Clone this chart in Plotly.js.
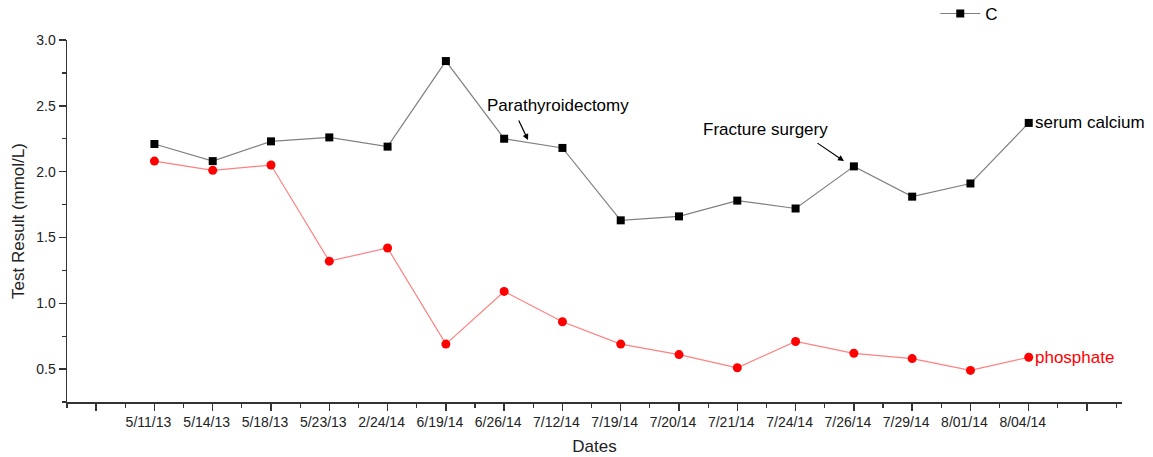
<!DOCTYPE html>
<html>
<head>
<meta charset="utf-8">
<script src="https://cdn.plot.ly/plotly-3.0.1.min.js"></script>
<style>html,body{margin:0;padding:0;background:#fff;}#chart{width:1153px;height:457px;}</style>
</head>
<body>
<div id="chart"></div>
<script>
const dates = ["5/11/13","5/14/13","5/18/13","5/23/13","2/24/14","6/19/14","6/26/14","7/12/14","7/19/14","7/20/14","7/21/14","7/24/14","7/26/14","7/29/14","8/01/14","8/04/14"];
const calcium = [2.21,2.08,2.23,2.26,2.19,2.84,2.25,2.18,1.63,1.66,1.78,1.72,2.04,1.81,1.91,2.37];
const phosphate = [2.08,2.01,2.05,1.32,1.42,0.69,1.09,0.86,0.69,0.61,0.51,0.71,0.62,0.58,0.49,0.59];
const legendName = "C";
const calciumLabel = "serum calcium";
const phosphateLabel = "phosphate";
const notes = [
  {text:"Parathyroidectomy", date:"6/26/14", frac:0.41, value:2.24},
  {text:"Fracture surgery", date:"7/26/14", frac:-0.17, value:2.08}
];

// positions: one empty slot before and after the dated categories
const xpos = dates.map((d,i)=>i+1);
const tickvals = [0].concat(xpos, [dates.length+1]);
const ticktext = [""].concat(dates, [""]);

const font = "Arial, 'Liberation Sans', sans-serif";
const ink = "#222";

const traces = [
  {x:xpos, y:calcium, type:"scatter", mode:"lines+markers", name:legendName,
   line:{color:"#808080", width:1.2},
   marker:{symbol:"square", size:8, color:"#000"}},
  {x:xpos, y:phosphate, type:"scatter", mode:"lines+markers", name:phosphateLabel, showlegend:false,
   line:{color:"#ff8080", width:1.2},
   marker:{symbol:"circle", size:9, color:"#ff0000"}}
];

const ann = [];
const last = dates.length;
ann.push({x:last, y:calcium[last-1], text:calciumLabel, showarrow:false, xanchor:"left", yanchor:"middle", xshift:4, font:{family:font, size:17, color:"#000"}});
ann.push({x:last, y:phosphate[last-1], text:phosphateLabel, showarrow:false, xanchor:"left", yanchor:"middle", xshift:4, font:{family:font, size:17, color:"#ff0000"}});
// Parathyroidectomy
const p = notes[0];
const px = dates.indexOf(p.date)+1+p.frac;
ann.push({x:px+0.51, y:p.value+0.26, text:p.text, showarrow:false, font:{family:font, size:17, color:"#000"}});
ann.push({x:px, y:p.value, text:"", showarrow:true, arrowhead:2, arrowsize:1, arrowwidth:1.2, arrowcolor:"#000", ax:-10, ay:-21});
// Fracture surgery
const f = notes[1];
const fx = dates.indexOf(f.date)+1+f.frac;
ann.push({x:fx-1.35, y:f.value+0.24, text:f.text, showarrow:false, font:{family:font, size:17, color:"#000"}});
ann.push({x:fx, y:f.value, text:"", showarrow:true, arrowhead:2, arrowsize:1, arrowwidth:1.2, arrowcolor:"#000", ax:-28, ay:-19});

const layout = {
  width:1153, height:457,
  margin:{l:67, r:31, t:40, b:55, autoexpand:false},
  paper_bgcolor:"#fff", plot_bgcolor:"#fff",
  font:{family:font, color:ink, size:14},
  showlegend:true,
  legend:{x:0.823, y:1.072, xanchor:"left", yanchor:"middle", itemwidth:40, bgcolor:"rgba(0,0,0,0)", font:{family:font, size:17, color:"#000"}},
  xaxis:{
    range:[-0.5, dates.length+1.6], tickmode:"array", tickvals:tickvals, ticktext:ticktext,
    showgrid:false, zeroline:false, showline:true, linecolor:"#333", linewidth:1.5,
    ticks:"outside", ticklen:7, tickwidth:1.5, tickcolor:"#333", tickangle:0,
    ticklabelshift:-6,
    minor:{tickmode:"linear", tick0:0.5, dtick:1, ticks:"outside", ticklen:4, tickwidth:1.2, tickcolor:"#333", showgrid:false},
    tickfont:{family:font, size:14, color:ink},
    title:{text:"Dates", font:{family:font, size:17, color:ink}, standoff:11}
  },
  yaxis:{
    range:[0.25, 3.0], tickmode:"linear", tick0:0.5, dtick:0.5, tickformat:".1f",
    showgrid:false, zeroline:false, showline:true, linecolor:"#333", linewidth:1.5,
    ticks:"outside", ticklen:7, tickwidth:1.5, tickcolor:"#333",
    minor:{tickmode:"linear", tick0:0.25, dtick:0.5, ticks:"outside", ticklen:4, tickwidth:1.2, tickcolor:"#333", showgrid:false},
    tickfont:{family:font, size:14, color:ink},
    title:{text:"Test Result (mmol/L)", font:{family:font, size:17, color:ink}, standoff:7}
  },
  annotations:ann
};

Plotly.newPlot("chart", traces, layout, {displayModeBar:false, staticPlot:true});
</script>
</body>
</html>
